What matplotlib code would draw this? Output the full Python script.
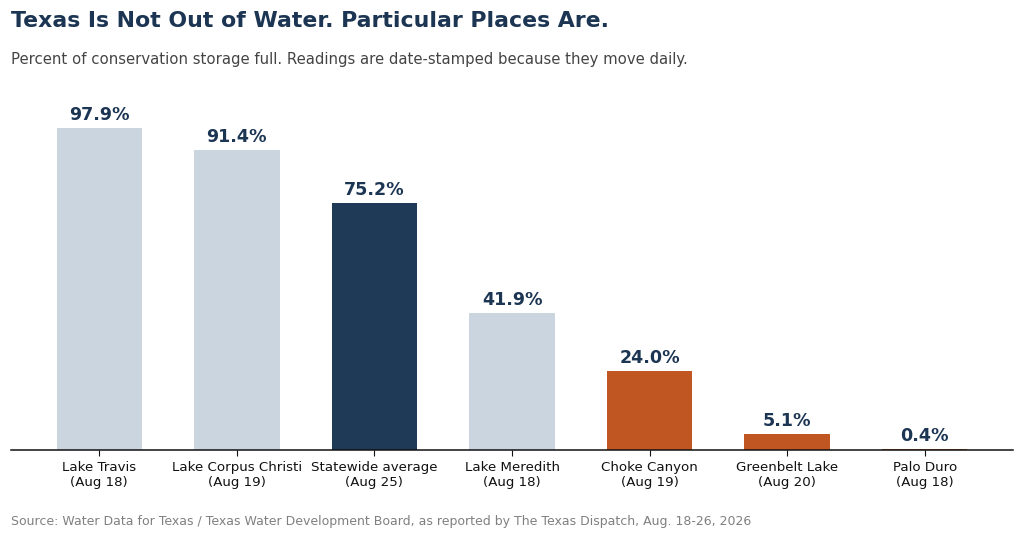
import matplotlib

matplotlib.use("Agg")
import matplotlib.pyplot as plt

LAKES = [
    "Lake Travis\n(Aug 18)",
    "Lake Corpus Christi\n(Aug 19)",
    "Statewide average\n(Aug 25)",
    "Lake Meredith\n(Aug 18)",
    "Choke Canyon\n(Aug 19)",
    "Greenbelt Lake\n(Aug 20)",
    "Palo Duro\n(Aug 18)",
]
PCT_FULL = [97.9, 91.4, 75.2, 41.9, 24.0, 5.1, 0.4]
GROUP = ["lake", "lake", "avg", "lake", "low", "low", "low"]

COLORS = {"lake": "#cbd5e0", "avg": "#1f3a56", "low": "#c05621"}
NAVY = "#1c3553"

fig = plt.figure(figsize=(10.24, 5.38), dpi=100)
ax = fig.add_axes([0.011, 0.163, 0.978, 0.66])

xs = range(len(LAKES))
ax.bar(xs, PCT_FULL, width=0.62, color=[COLORS[g] for g in GROUP])
for x, val in zip(xs, PCT_FULL):
    ax.text(x, val + 1.2, f"{val:.1f}%", ha="center", va="bottom",
            fontsize=12.6, fontweight="bold", color=NAVY)

ax.set_xlim(-0.64, len(LAKES) - 0.36)
ax.set_ylim(0, 108)
ax.set_xticks(list(xs))
ax.set_xticklabels(LAKES, fontsize=9.6, color="#111111")
ax.set_yticks([])
for side in ("left", "right", "top"):
    ax.spines[side].set_visible(False)
ax.spines["bottom"].set_color("#111111")
ax.spines["bottom"].set_linewidth(1.1)
ax.tick_params(axis="x", length=4, color="#111111")

fig.text(0.011, 0.961, "Texas Is Not Out of Water. Particular Places Are.",
         fontsize=15.8, fontweight="bold", color=NAVY, va="center")
fig.text(0.011, 0.889,
         "Percent of conservation storage full. Readings are date-stamped because they move daily.",
         fontsize=10.7, color="#444444", va="center")
fig.text(0.011, 0.03,
         "Source: Water Data for Texas / Texas Water Development Board, as reported by The Texas Dispatch, Aug. 18-26, 2026",
         fontsize=9.0, color="#808080", va="center")

fig.savefig("out.png", dpi=100)
